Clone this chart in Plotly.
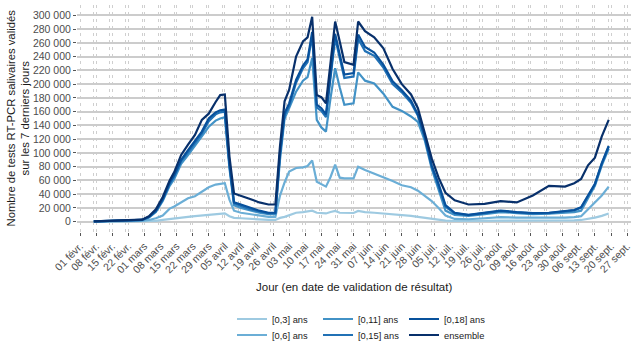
import plotly.graph_objects as go

# ---- data (thousands of tests) ----
dates = ["2021-02-07","2021-02-14","2021-02-21","2021-02-28","2021-03-03","2021-03-06","2021-03-09",
         "2021-03-12","2021-03-14","2021-03-17","2021-03-20","2021-03-23","2021-03-26","2021-03-29",
         "2021-04-01","2021-04-03","2021-04-05","2021-04-07","2021-04-09","2021-04-12","2021-04-16",
         "2021-04-20","2021-04-24","2021-04-27","2021-04-29","2021-05-01","2021-05-03","2021-05-06",
         "2021-05-09","2021-05-11","2021-05-13","2021-05-15","2021-05-17","2021-05-19","2021-05-21",
         "2021-05-23","2021-05-25","2021-05-27","2021-05-31","2021-06-02","2021-06-05","2021-06-09",
         "2021-06-13","2021-06-17","2021-06-21","2021-06-25","2021-06-28","2021-07-01","2021-07-04",
         "2021-07-07","2021-07-10","2021-07-14","2021-07-20","2021-07-27","2021-08-03","2021-08-10",
         "2021-08-17","2021-08-24","2021-08-31","2021-09-04","2021-09-07","2021-09-10","2021-09-13",
         "2021-09-16","2021-09-19"]

ens = [0.5,1.2,1.6,3,8,18,36,60,72,97,112,126,148,157,174,184,185,95,41,38,33,28,25,25,110,175,192,
       240,262,268,298,184,181,172,235,291,262,232,228,291,277,268,252,222,200,185,165,130,92,64,42,
       31,25,26,30,28,38,52,51,56,62,82,93,124,148]
s18 = [0.4,1.0,1.4,2.6,7,16,33,57,68,90,104,117,131,150,159,162,163,85,28,25,20,16,13,13,100,158,172,
       206,227,236,276,170,165,156,215,273,243,214,216,272,254,246,228,204,191,176,156,124,82,55,24,
       13,10,13,16,14,12.6,13,15,17,21,38,55,85,110]
s15 = [0.4,1.0,1.3,2.5,6.8,15,32,55,66,88,101,114,128,146,156,159,160,82,27,23,18,15,12,12.5,97,155,168,
       202,223,232,270,166,161,152,210,267,238,209,211,266,248,241,224,200,188,173,154,122,80,52,22,
       12,9.5,12.5,15.5,13.5,12,12.5,14.5,16.5,20.5,37,54,84,109]
s11 = [0.3,0.9,1.2,2.3,6,14,30,52,62,84,97,110,124,138,147,150,152,78,24,20,16,13,11,11,90,150,165,
       189,205,210,238,148,137,131,180,223,195,170,172,217,205,201,186,167,161,153,145,118,77,45,16,
       10,8.5,11,14,12.5,11,11.5,13,14,16,33,52,82,106]
s6 = [0.2,0.5,0.7,1.2,2.5,5,9,19,22,28,34,37,44,50,54,55,56,32,16,13,11,9,7,7,38,57,73,78,79,81,89,
      58,55,51,65,83,64,63,63,80,75,70,64,59,53,50,45,38,30,20,9,4,3.5,5,6.5,6,5.5,6,6,6.5,8,18,28,
      38,51]
s3 = [0.1,0.2,0.3,0.5,0.8,1.2,2.5,4,4.5,6,7,8,9,10,11,11.5,12,8,5.5,5,4,3,2.5,2.5,5.5,7,9,13,14,15,
      16,13,12.5,12,14,15.6,13,12.6,12.6,15.6,14,13,12,10,9.5,8.5,7,5.5,3.5,2.5,1.5,1,1,1.5,2,2,2,2,
      2,2,2.5,4,6,8.5,12]

series_names = ["[0,3] ans", "[0,6] ans", "[0,11] ans", "[0,15] ans", "[0,18] ans", "ensemble"]
series_values = [s3, s6, s11, s15, s18, ens]
colors = ["#9ecae1", "#6baed6", "#4292c6", "#2171b5", "#08519c", "#08306b"]
legend_ids = ["legend", "legend2", "legend", "legend2", "legend", "legend2"]

tick_dates = ["2021-02-01","2021-02-08","2021-02-15","2021-02-22","2021-03-01","2021-03-08","2021-03-15",
              "2021-03-22","2021-03-29","2021-04-05","2021-04-12","2021-04-19","2021-04-26","2021-05-03",
              "2021-05-10","2021-05-17","2021-05-24","2021-05-31","2021-06-07","2021-06-14","2021-06-21",
              "2021-06-28","2021-07-05","2021-07-12","2021-07-19","2021-07-26","2021-08-02","2021-08-09",
              "2021-08-16","2021-08-23","2021-08-30","2021-09-06","2021-09-13","2021-09-20","2021-09-27"]
tick_labels = ["01 févr.","08 févr.","15 févr.","22 févr.","01 mars","08 mars","15 mars","22 mars",
               "29 mars","05 avril","12 avril","19 avril","26 avril","03 mai","10 mai","17 mai","24 mai",
               "31 mai","07 juin","14 juin","21 juin","28 juin","05 juil.","12 juil.","19 juil.",
               "26 juil.","02 août","09 août","16 août","23 août","30 août","06 sept.","13 sept.",
               "20 sept.","27 sept."]
minor_dates = ["2021-01-31","2021-02-07","2021-02-14","2021-02-21","2021-02-28","2021-03-07","2021-03-14",
               "2021-03-21","2021-03-28","2021-04-04","2021-04-11","2021-04-18","2021-04-25","2021-05-02",
               "2021-05-09","2021-05-16","2021-05-23","2021-05-30","2021-06-06","2021-06-13","2021-06-20",
               "2021-06-27","2021-07-04","2021-07-11","2021-07-18","2021-07-25","2021-08-01","2021-08-08",
               "2021-08-15","2021-08-22","2021-08-29","2021-09-05","2021-09-12","2021-09-19","2021-09-26"]
y_ticks = list(range(0, 300001, 20000))

FONT = "Liberation Sans, Arial, sans-serif"

fig = go.Figure()
for name, vals, col, lg in zip(series_names, series_values, colors, legend_ids):
    fig.add_trace(go.Scatter(
        x=dates, y=[v * 1000 for v in vals], mode="lines", name=name,
        line=dict(color=col, width=2.2), legend=lg,
    ))

W, H = 635, 353
ml, mr, mt, mb = 77, 4, 5, 121
plot_w = W - ml - mr
plot_h = H - mt - mb

legend_common = dict(
    orientation="h", xanchor="left", yanchor="middle",
    font=dict(family=FONT, size=9.3, color="#1a1a1a"),
    bgcolor="rgba(0,0,0,0)", entrywidth=41, entrywidthmode="pixels",
    itemwidth=30, tracegroupgap=0,
)
leg_x = (232 - ml) / plot_w

fig.update_layout(
    width=W, height=H,
    margin=dict(l=ml, r=mr, t=mt, b=mb, autoexpand=False),
    paper_bgcolor="white", plot_bgcolor="white",
    separators=", ",
    font=dict(family=FONT, size=10, color="#4d4d4d"),
    legend=dict(x=leg_x, y=(mt + plot_h - 319) / plot_h, **legend_common),
    legend2=dict(x=leg_x, y=(mt + plot_h - 335) / plot_h, **legend_common),
    xaxis=dict(
        type="date",
        range=["2021-01-30 16:40", "2021-09-28 16:50"],
        tickmode="array", tickvals=tick_dates, ticktext=tick_labels,
        tickangle=-45, tickfont=dict(family=FONT, size=10.5, color="#4d4d4d"),
        ticks="outside", ticklen=3, tickcolor="#555555", tickwidth=1,
        showgrid=True, gridcolor="#cfcfcf", gridwidth=1, griddash="3px,4px",
        minor=dict(tickmode="array", tickvals=minor_dates, showgrid=True,
                   gridcolor="#cfcfcf", gridwidth=1, griddash="3px,4px", ticks=""),
        zeroline=False, showline=False, automargin=False,
    ),
    yaxis=dict(
        range=[-15000, 315000],
        tickmode="array", tickvals=y_ticks, tickformat=",d",
        tickfont=dict(family=FONT, size=10.5, color="#4d4d4d"),
        ticks="outside", ticklen=3, tickcolor="#555555", tickwidth=1,
        showgrid=True, gridcolor="#cccccc", gridwidth=1.5,
        zeroline=False, showline=False, automargin=False,
    ),
    annotations=[
        dict(text="Nombre de tests RT-PCR salivaires validés<br>sur les 7 derniers jours",
             xref="paper", yref="paper", x=(18 - ml) / plot_w, y=0.5,
             xanchor="center", yanchor="middle", textangle=-90, showarrow=False,
             font=dict(family=FONT, size=11.3, color="#1a1a1a")),
        dict(text="Jour (en date de validation de résultat)",
             xref="paper", yref="paper", x=(354 - ml) / plot_w, y=(mt + plot_h - 287) / plot_h,
             xanchor="center", yanchor="middle", showarrow=False,
             font=dict(family=FONT, size=11.5, color="#1a1a1a")),
    ],
)

fig.write_html("out.html")
